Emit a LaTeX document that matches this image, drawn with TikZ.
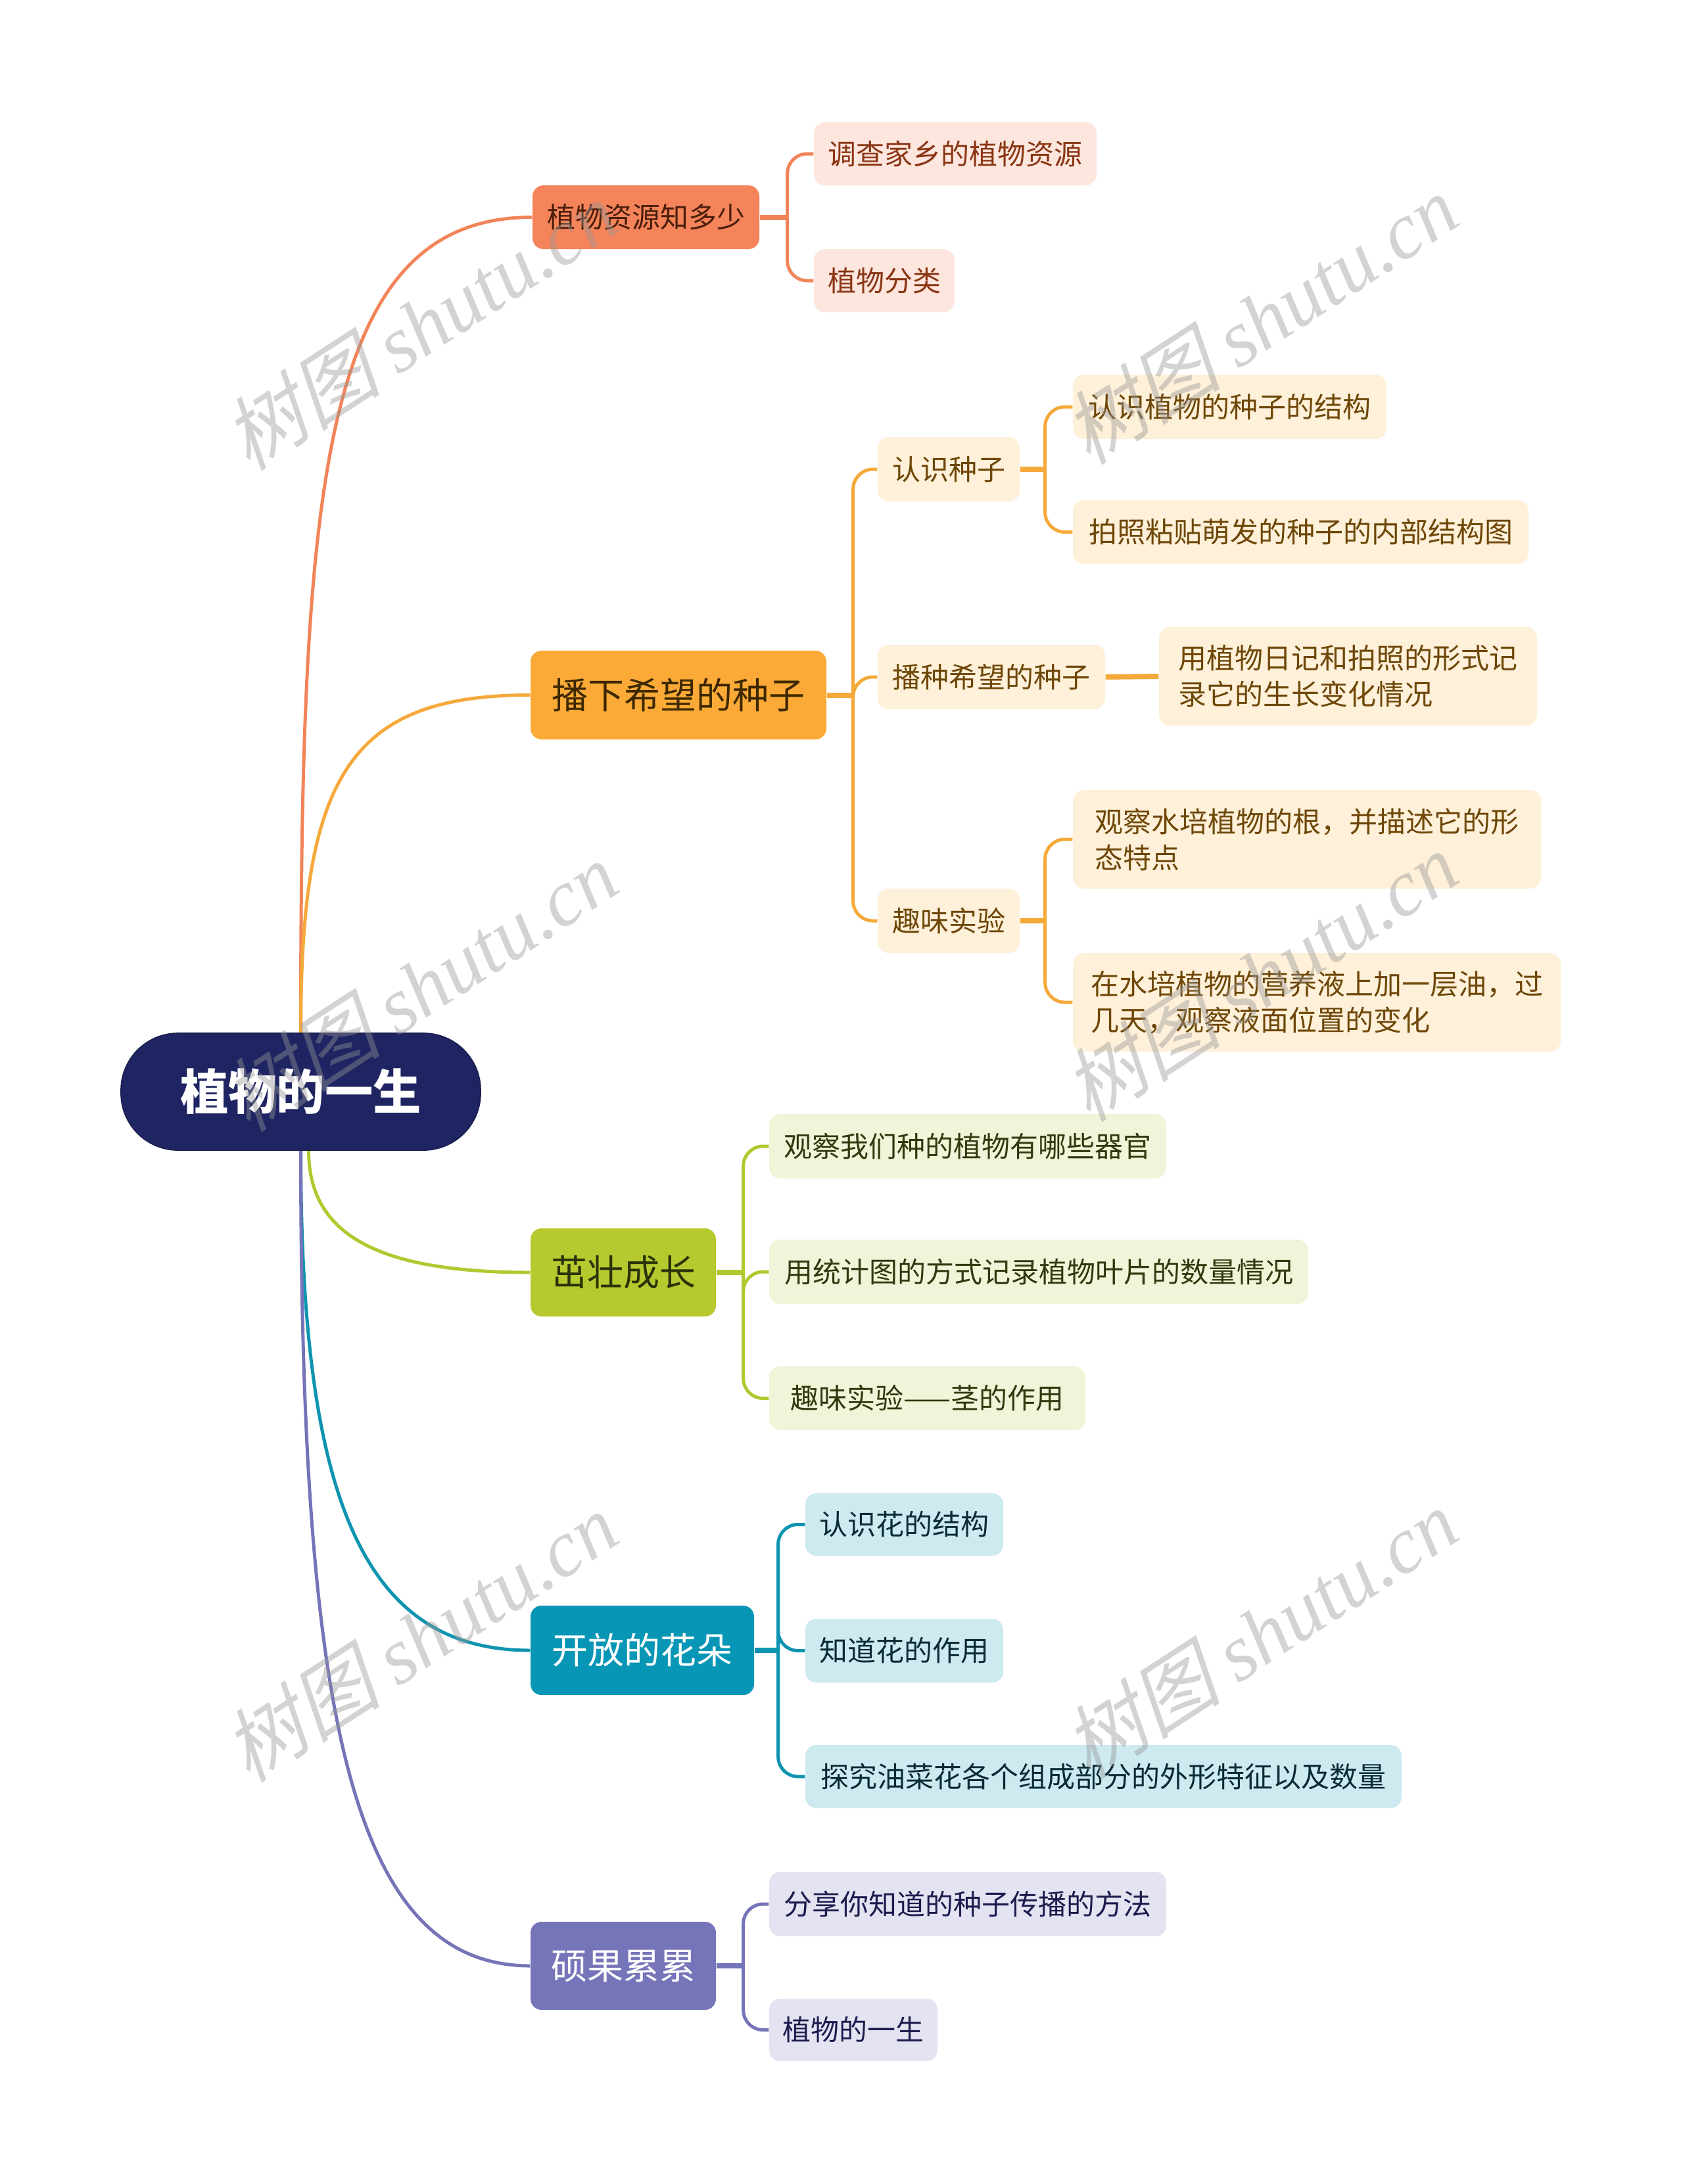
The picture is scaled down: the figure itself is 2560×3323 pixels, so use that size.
\documentclass[tikz,border=0pt]{standalone}
\usepackage{fontspec}
\setmainfont{Noto Sans CJK SC}
\newfontfamily\wmcjk[FakeSlant=0.25]{Noto Sans CJK SC}
\newfontfamily\wmlat{Liberation Serif}
\usetikzlibrary{calc}
\pgfdeclarelayer{background}
\pgfsetlayers{background,main}
\definecolor{rootc}{HTML}{1F2562}
\definecolor{oc}{HTML}{F2845A}
\definecolor{of1}{HTML}{F5845A}
\definecolor{ot1}{HTML}{4A1E0A}
\definecolor{of2}{HTML}{FDE6DD}
\definecolor{ot2}{HTML}{8A3514}
\definecolor{yc}{HTML}{F5A93A}
\definecolor{yf1}{HTML}{FBAA37}
\definecolor{yt1}{HTML}{3D2800}
\definecolor{yf2}{HTML}{FEF0D9}
\definecolor{yt2}{HTML}{6E4708}
\definecolor{gc}{HTML}{B3C72F}
\definecolor{gf1}{HTML}{B6C92E}
\definecolor{gt1}{HTML}{2A320A}
\definecolor{gf2}{HTML}{F1F4D8}
\definecolor{gt2}{HTML}{2F3A0F}
\definecolor{bc}{HTML}{0E94B0}
\definecolor{bf1}{HTML}{0796B5}
\definecolor{bf2}{HTML}{CDEAF1}
\definecolor{bt2}{HTML}{0C2A33}
\definecolor{pc}{HTML}{7674B8}
\definecolor{pf1}{HTML}{7775B9}
\definecolor{pf2}{HTML}{E4E3F1}
\definecolor{pt2}{HTML}{1E1B4E}
\definecolor{wmc}{HTML}{969696}
\newcommand{\mmnode}[7]{%
  \node[#1, minimum width={(#5-#3)*0.3pt}, minimum height={(#6-#4)*0.3pt}] (#2) at ({(#3+#5)/2},{(#4+#6)/2}) {#7};}
\tikzset{
  box/.style={rounded corners=5pt, inner sep=0pt, align=left, font=\fontsize{12.9pt}{16.5pt}\selectfont},
  bigbox/.style={box, font=\fontsize{16.5pt}{20pt}\selectfont},
  rootbox/.style={fill=rootc, draw=rootc!80!black, line width=0.5pt, rounded corners=26pt, inner sep=0pt, text=white, font=\fontsize{22pt}{26pt}\selectfont\bfseries},
  curve/.style={line width=1.5pt},
  stub/.style={line width=2.4pt},
  br/.style={line width=1.5pt, rounded corners=9pt},
  wm/.style={text=wmc, text opacity=0.42, rotate=33, inner sep=0pt}
}
\begin{document}
\begin{tikzpicture}[x=0.3pt, y=-0.3pt]
\useasboundingbox (0,0) rectangle (2560,3323);
% root
\mmnode{rootbox}{root}{184}{1572}{731}{1750}{植物的一生}
% orange branch
\mmnode{box, fill=of1, text=ot1}{n1}{810}{282}{1155}{379}{植物资源知多少}
\mmnode{box, fill=of2, text=ot2}{n11}{1238}{186}{1668}{282}{调查家乡的植物资源}
\mmnode{box, fill=of2, text=ot2}{n12}{1238}{379}{1452}{475}{植物分类}
% yellow branch
\mmnode{bigbox, fill=yf1, text=yt1}{n2}{807}{990}{1257}{1125}{播下希望的种子}
\mmnode{box, fill=yf2, text=yt2}{n21}{1335}{665}{1551}{763}{认识种子}
\mmnode{box, fill=yf2, text=yt2}{n211}{1632}{570}{2109}{668}{认识植物的种子的结构}
\mmnode{box, fill=yf2, text=yt2}{n212}{1632}{761}{2325}{858}{拍照粘贴萌发的种子的内部结构图}
\mmnode{box, fill=yf2, text=yt2}{n22}{1335}{981}{1681}{1079}{播种希望的种子}
\mmnode{box, fill=yf2, text=yt2}{n221}{1763}{954}{2338}{1104}{用植物日记和拍照的形式记\\录它的生长变化情况}
\mmnode{box, fill=yf2, text=yt2}{n23}{1335}{1352}{1551}{1450}{趣味实验}
\mmnode{box, fill=yf2, text=yt2}{n231}{1632}{1202}{2344}{1352}{观察水培植物的根，并描述它的形\\态特点}
\mmnode{box, fill=yf2, text=yt2}{n232}{1632}{1450}{2374}{1600}{在水培植物的营养液上加一层油，过\\几天，观察液面位置的变化}
% green branch
\mmnode{bigbox, fill=gf1, text=gt1}{n3}{807}{1869}{1089}{2003}{茁壮成长}
\mmnode{box, fill=gf2, text=gt2}{n31}{1170}{1695}{1774}{1793}{观察我们种的植物有哪些器官}
\mmnode{box, fill=gf2, text=gt2}{n32}{1170}{1886}{1990}{1984}{用统计图的方式记录植物叶片的数量情况}
\mmnode{box, fill=gf2, text=gt2}{n33}{1170}{2079}{1651}{2176}{趣味实验——茎的作用}
% blue branch
\mmnode{bigbox, fill=bf1, text=white}{n4}{807}{2443}{1147}{2579}{开放的花朵}
\mmnode{box, fill=bf2, text=bt2}{n41}{1225}{2272}{1526}{2367}{认识花的结构}
\mmnode{box, fill=bf2, text=bt2}{n42}{1225}{2463}{1526}{2560}{知道花的作用}
\mmnode{box, fill=bf2, text=bt2}{n43}{1225}{2655}{2132}{2751}{探究油菜花各个组成部分的外形特征以及数量}
% purple branch
\mmnode{bigbox, fill=pf1, text=white}{n5}{807}{2924}{1089}{3058}{硕果累累}
\mmnode{box, fill=pf2, text=pt2}{n51}{1170}{2848}{1774}{2946}{分享你知道的种子传播的方法}
\mmnode{box, fill=pf2, text=pt2}{n52}{1170}{3041}{1426}{3136}{植物的一生}
% branch coordinates
\coordinate (b1) at ($(n1.east)+(42,0)$);
\coordinate (b2) at ($(n2.east)+(40,0)$);
\coordinate (b21) at ($(n21.east)+(38,0)$);
\coordinate (b23) at ($(n23.east)+(38,0)$);
\coordinate (b3) at ($(n3.east)+(41,0)$);
\coordinate (b4) at ($(n4.east)+(36,0)$);
\coordinate (b5) at ($(n5.east)+(41,0)$);
\coordinate (rg) at ($(root.south)+(12,0)$);
\begin{pgfonlayer}{background}
% root curves
\draw[curve, oc] (root.north) .. controls +(0,-831) and +(-322,0) .. (n1.west);
\draw[curve, yc] (root.north) .. controls +(0,-386) and +(-278,0) .. (n2.west);
\draw[curve, gc] (rg) .. controls +(0,127) and +(-233,0) .. (n3.west);
\draw[curve, bc] (root.south) .. controls +(0,530) and +(-254,0) .. (n4.west);
\draw[curve, pc] (root.south) .. controls +(0,848) and +(-275,0) .. (n5.west);
% orange
\draw[stub, oc] (n1.east) -- (b1);
\draw[br, oc] (b1) |- (n11.west);
\draw[br, oc] (b1) |- (n12.west);
% yellow
\draw[stub, yc] (n2.east) -- (b2);
\draw[br, yc] (b2) |- (n21.west);
\draw[br, yc] (b2) |- (n22.west);
\draw[br, yc] (b2) |- (n23.west);
\draw[stub, yc] (n21.east) -- (b21);
\draw[br, yc] (b21) |- (n211.west);
\draw[br, yc] (b21) |- (n212.west);
\draw[stub, yc] (n22.east) -- (n221.west);
\draw[stub, yc] (n23.east) -- (b23);
\draw[br, yc] (b23) |- (n231.west);
\draw[br, yc] (b23) |- (n232.west);
% green
\draw[stub, gc] (n3.east) -- (b3);
\draw[br, gc] (b3) |- (n31.west);
\draw[br, gc] (b3) |- (n32.west);
\draw[br, gc] (b3) |- (n33.west);
% blue
\draw[stub, bc] (n4.east) -- (b4);
\draw[br, bc] (b4) |- (n41.west);
\draw[br, bc] (b4) |- (n42.west);
\draw[br, bc] (b4) |- (n43.west);
% purple
\draw[stub, pc] (n5.east) -- (b5);
\draw[br, pc] (b5) |- (n51.west);
\draw[br, pc] (b5) |- (n52.west);
\end{pgfonlayer}
% watermarks
\foreach \i/\wx/\wy in {1/638/495, 2/1916/486, 3/638/1501, 4/1916/1486, 5/638/2491, 6/1916/2486}{
  \node[wm] (wm\i) at (\wx,\wy) {\fontsize{36.5pt}{42pt}\selectfont{\wmcjk 树图} {\wmlat\itshape shutu.cn}};
}
\end{tikzpicture}
\end{document}
